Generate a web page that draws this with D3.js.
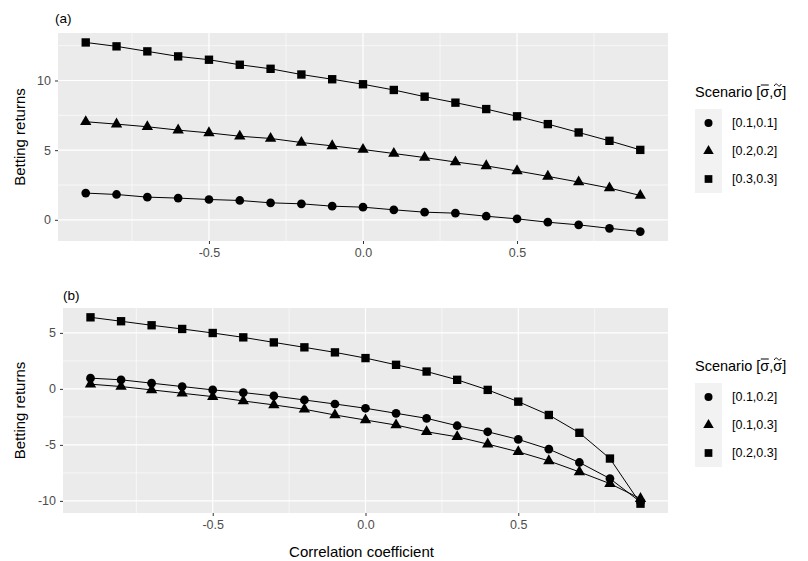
<!DOCTYPE html>
<html>
<head>
<meta charset="utf-8">
<script src="https://cdn.jsdelivr.net/npm/d3@7"></script>
<style>
  body { margin: 0; background: #fff; }
  svg { font-family: "Liberation Sans", Arial, sans-serif; }
</style>
</head>
<body>
<div id="chart"></div>
<script>
// Betting returns vs correlation coefficient, two panels (ggplot-like theme)
const rho = [-0.9, -0.8, -0.7, -0.6, -0.5, -0.4, -0.3, -0.2, -0.1, 0.0,
             0.1, 0.2, 0.3, 0.4, 0.5, 0.6, 0.7, 0.8, 0.9];

// panel (a)
const labelsA = ["[0.1,0.1]", "[0.2,0.2]", "[0.3,0.3]"];
const a01 = [1.92, 1.82, 1.63, 1.56, 1.46, 1.39, 1.22, 1.15, 0.98, 0.91,
             0.72, 0.55, 0.48, 0.26, 0.07, -0.17, -0.36, -0.61, -0.84];
const a02 = [7.04, 6.87, 6.68, 6.44, 6.24, 6.00, 5.84, 5.55, 5.31, 5.05,
             4.76, 4.47, 4.15, 3.87, 3.51, 3.12, 2.71, 2.28, 1.75];
const a03 = [12.73, 12.45, 12.09, 11.73, 11.49, 11.13, 10.84, 10.43, 10.09, 9.73,
             9.32, 8.84, 8.41, 7.95, 7.43, 6.87, 6.27, 5.67, 5.02];
const yTicksA = [0, 5, 10];

// panel (b)
const labelsB = ["[0.1,0.2]", "[0.1,0.3]", "[0.2,0.3]"];
const b12 = [0.96, 0.81, 0.51, 0.21, -0.09, -0.33, -0.63, -0.99, -1.35, -1.73,
             -2.18, -2.63, -3.29, -3.83, -4.51, -5.38, -6.57, -8.01, -10.10];
const b13 = [0.42, 0.21, -0.09, -0.39, -0.69, -1.08, -1.43, -1.82, -2.33, -2.78,
             -3.23, -3.83, -4.28, -4.93, -5.62, -6.43, -7.41, -8.46, -9.80];
const b23 = [6.39, 6.04, 5.68, 5.35, 4.99, 4.60, 4.15, 3.71, 3.26, 2.75,
             2.15, 1.55, 0.81, -0.09, -1.14, -2.33, -3.92, -6.22, -10.25];
const yTicksB = [-10, -5, 0, 5];

const xTicks = [-0.5, 0.0, 0.5];
const shapes = [d3.symbolCircle, d3.symbolTriangle, d3.symbolSquare];
const shapeSize = [60, 56, 70];

const W = 808, H = 561;
const svg = d3.select('#chart').append('svg')
    .attr('width', W).attr('height', H);

function drawLegendTitle(lg) {
    // "Scenario [σ̄,σ̃]" with the bar and tilde drawn as strokes
    const t = lg.append('text')
        .attr('x', 0).attr('y', 0)
        .attr('font-size', 14.5)
        .attr('fill', '#000')
        .text('Scenario [\u03C3,\u03C3]');
    const node = t.node();
    const full = 'Scenario [\u03C3,\u03C3]';
    const i1 = full.indexOf('\u03C3');
    const i2 = full.lastIndexOf('\u03C3');
    const p1 = node.getStartPositionOfChar(i1).x;
    const w1 = node.getSubStringLength(i1, 1);
    const p2 = node.getStartPositionOfChar(i2).x;
    const w2 = node.getSubStringLength(i2, 1);
    lg.append('line')
        .attr('x1', p1 + 0.5).attr('x2', p1 + w1 - 0.5)
        .attr('y1', -12).attr('y2', -12)
        .attr('stroke', '#000').attr('stroke-width', 1);
    const cx = p2 + w2 / 2;
    lg.append('path')
        .attr('d', `M${cx - 3.5},-11 C${cx - 2},-14 ${cx - 1},-13 ${cx},-12 S${cx + 2},-10 ${cx + 3.5},-13`)
        .attr('fill', 'none')
        .attr('stroke', '#000').attr('stroke-width', 1);
}

function drawPanel(opts) {
    const { left, right, top, bottom, series, labels, yTicks, tag, legendTop, showXTitle } = opts;

    // ggplot default 5% expansion
    const xExt = d3.extent(rho);
    const xPad = (xExt[1] - xExt[0]) * 0.05;
    const x = d3.scaleLinear().domain([xExt[0] - xPad, xExt[1] + xPad]).range([left, right]);
    const allY = series.flat();
    const yExt = d3.extent(allY);
    const yPad = (yExt[1] - yExt[0]) * 0.05;
    const y = d3.scaleLinear().domain([yExt[0] - yPad, yExt[1] + yPad]).range([bottom, top]);

    const g = svg.append('g');
    g.append('rect')
        .attr('x', left).attr('y', top)
        .attr('width', right - left).attr('height', bottom - top)
        .attr('fill', '#EBEBEB');

    // minor grid
    const minorX = xTicks.slice(0, -1).map((t, i) => (t + xTicks[i + 1]) / 2);
    minorX.unshift(xTicks[0] - 0.25);
    minorX.push(xTicks[xTicks.length - 1] + 0.25);
    const step = yTicks[1] - yTicks[0];
    const minorY = [];
    for (let v = yTicks[0] - step / 2; v <= yTicks[yTicks.length - 1] + step / 2; v += step) minorY.push(v);

    g.selectAll('line.minx').data(minorX.filter(v => x(v) > left && x(v) < right)).enter()
        .append('line')
        .attr('x1', d => x(d)).attr('x2', d => x(d))
        .attr('y1', top).attr('y2', bottom)
        .attr('stroke', '#fff').attr('stroke-width', 0.6);
    g.selectAll('line.miny').data(minorY.filter(v => y(v) > top && y(v) < bottom)).enter()
        .append('line')
        .attr('x1', left).attr('x2', right)
        .attr('y1', d => y(d)).attr('y2', d => y(d))
        .attr('stroke', '#fff').attr('stroke-width', 0.6);
    // major grid
    g.selectAll('line.majx').data(xTicks).enter()
        .append('line')
        .attr('x1', d => x(d)).attr('x2', d => x(d))
        .attr('y1', top).attr('y2', bottom)
        .attr('stroke', '#fff').attr('stroke-width', 1.2);
    g.selectAll('line.majy').data(yTicks).enter()
        .append('line')
        .attr('x1', left).attr('x2', right)
        .attr('y1', d => y(d)).attr('y2', d => y(d))
        .attr('stroke', '#fff').attr('stroke-width', 1.2);

    // axes
    const xAxis = g.append('g')
        .attr('transform', `translate(0,${bottom})`)
        .call(d3.axisBottom(x).tickValues(xTicks).tickSize(3).tickPadding(4));
    const yAxis = g.append('g')
        .attr('transform', `translate(${left},0)`)
        .call(d3.axisLeft(y).tickValues(yTicks).tickSize(3).tickPadding(4));
    [xAxis, yAxis].forEach(ax => {
        ax.select('.domain').remove();
        ax.selectAll('.tick line').attr('stroke', '#333').attr('stroke-width', 1);
        ax.selectAll('.tick text')
            .attr('fill', '#4D4D4D')
            .style('font-size', '12.5px')
            .style('font-family', '"Liberation Sans", Arial, sans-serif');
    });
    // ggplot prints "-0.5" with a hyphen minus
    xAxis.selectAll('.tick text').text(d => d.toFixed(1));
    yAxis.selectAll('.tick text').text(d => String(d));

    // lines and points
    const line = d3.line().x((d, i) => x(rho[i])).y(d => y(d));
    series.forEach((s, k) => {
        g.append('path')
            .attr('d', line(s))
            .attr('fill', 'none')
            .attr('stroke', '#000')
            .attr('stroke-width', 1);
    });
    series.forEach((s, k) => {
        g.selectAll(null).data(s).enter()
            .append('path')
            .attr('transform', (d, i) => `translate(${x(rho[i])},${y(d)})`)
            .attr('d', d3.symbol().type(shapes[k]).size(shapeSize[k]))
            .attr('fill', '#000');
    });

    // panel tag
    svg.append('text')
        .attr('x', tag.x).attr('y', tag.y)
        .attr('font-size', 13.5)
        .attr('fill', '#000')
        .text(tag.text);

    // y title
    svg.append('text')
        .attr('transform', `translate(25,${(top + bottom) / 2}) rotate(-90)`)
        .attr('text-anchor', 'middle')
        .attr('font-size', 15)
        .attr('fill', '#000')
        .text('Betting returns');

    if (showXTitle) {
        svg.append('text')
            .attr('x', (left + right) / 2 - 4)
            .attr('y', 557)
            .attr('text-anchor', 'middle')
            .attr('font-size', 15)
            .attr('fill', '#000')
            .text('Correlation coefficient');
    }

    // legend
    const lg = svg.append('g').attr('transform', `translate(695,${legendTop})`);
    drawLegendTitle(lg);
    labels.forEach((lab, k) => {
        const ky = 12 + k * 28;
        lg.append('rect')
            .attr('x', 0).attr('y', ky)
            .attr('width', 27).attr('height', 28)
            .attr('fill', '#F2F2F2');
        lg.append('path')
            .attr('transform', `translate(13.5,${ky + 14})`)
            .attr('d', d3.symbol().type(shapes[k]).size(shapeSize[k] * 0.85))
            .attr('fill', '#000');
        lg.append('text')
            .attr('x', 37).attr('y', ky + 18)
            .attr('font-size', 12.5)
            .attr('fill', '#000')
            .text(lab);
    });
}

drawPanel({
    left: 58, right: 668, top: 33, bottom: 241,
    series: [a01, a02, a03], labels: labelsA, yTicks: yTicksA,
    tag: { x: 55, y: 23, text: '(a)' }, legendTop: 97, showXTitle: false
});

drawPanel({
    left: 63, right: 668, top: 308, bottom: 513,
    series: [b12, b13, b23], labels: labelsB, yTicks: yTicksB,
    tag: { x: 63, y: 300, text: '(b)' }, legendTop: 371, showXTitle: true
});
</script>
</body>
</html>
